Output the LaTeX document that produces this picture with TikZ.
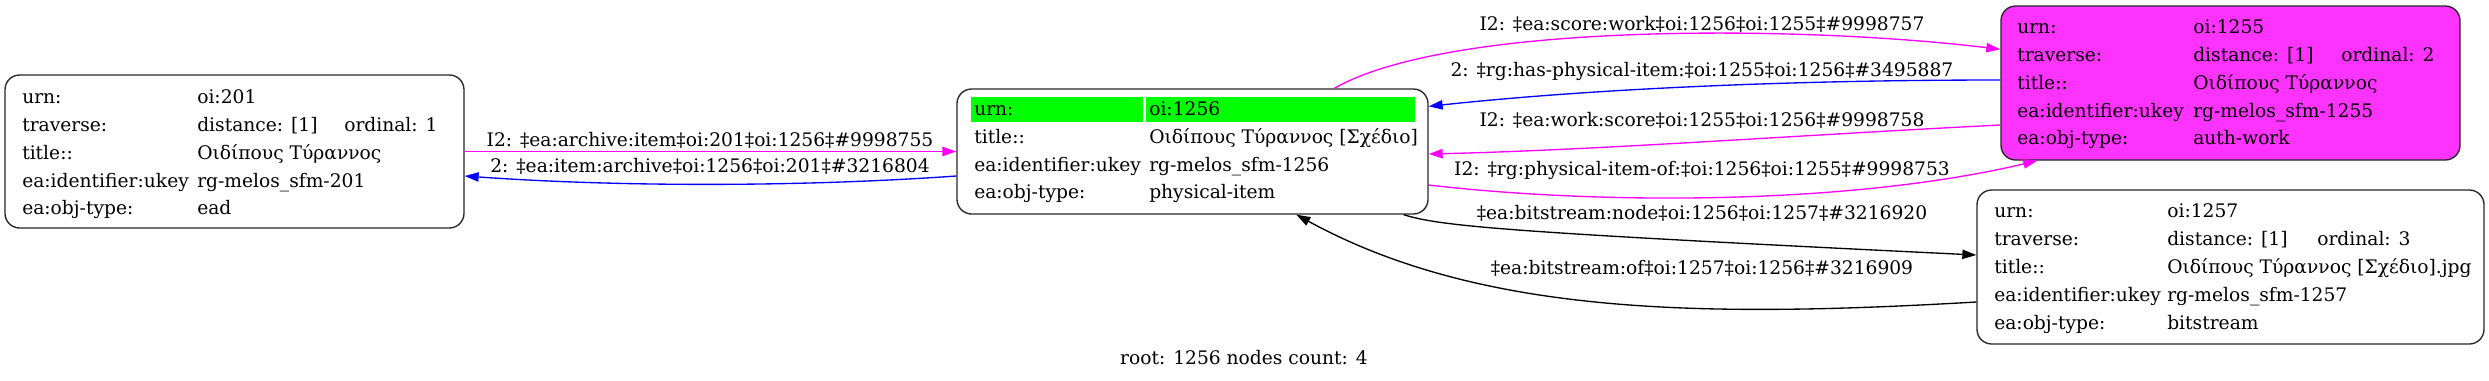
\documentclass[tikz,border=0pt]{standalone}
\usepackage{fontspec}
\setmainfont{DejaVu Serif}
\usetikzlibrary{arrows.meta,calc}
\definecolor{mag}{HTML}{FF00FF}
\definecolor{magfill}{HTML}{FF33FF}
\definecolor{grn}{HTML}{00FF00}
\definecolor{blu}{HTML}{0000FF}
\begin{document}
\begin{tikzpicture}[x=0.75pt,y=-0.75pt,
  font=\fontsize{14}{17}\selectfont,
  rec/.style={draw=black!85, line width=1pt, rounded corners=11pt, inner sep=0pt},
  txt/.style={anchor=base west, inner sep=0pt},
  lab/.style={anchor=base, inner sep=0pt},
  conn/.style={line width=1pt, -{Triangle[length=10.5pt,width=7pt]}}]
\useasboundingbox (0,0) rectangle (2489,380);

% record boxes
\node[rec, minimum width=344.25pt, minimum height=114.75pt] (n201) at (234.5,151.5) {};
\node[rec, minimum width=353.25pt, minimum height=93.75pt] (n1256) at (1192.5,151.5) {};
\node[rec, fill=magfill, minimum width=344.25pt, minimum height=115.5pt] (n1255) at (2230.5,83) {};
\node[rec, minimum width=380.25pt, minimum height=115.5pt] (n1257) at (2230.5,267) {};

% green cells of the root
\fill[grn] (971,97) rectangle (1143,122);
\fill[grn] (1146,97) rectangle (1415,122);

% node 201
\node[txt] (a1) at (22,103) {urn:};
\node[txt] (a2) at (22,131) {traverse:};
\node[txt] (a3) at (22,159) {title::};
\node[txt] (a4) at (22,187) {ea:identifier:ukey};
\node[txt] (a5) at (22,214) {ea:obj-type:};
\node[txt] (av1) at (197,103) {oi:201};
\node[txt] (av2) at (197,131) {distance: [1]};
\node[txt] (ao2) at (344,131) {ordinal: 1};
\node[txt] (av3) at (197,159) {Οιδίπους Τύραννος};
\node[txt] (av4) at (197,187) {rg-melos\_sfm-201};
\node[txt] (av5) at (197,214) {ead};

% node 1256
\node[txt] (b1) at (974,115) {urn:};
\node[txt] (b2) at (974,143) {title::};
\node[txt] (b3) at (974,171) {ea:identifier:ukey};
\node[txt] (b4) at (974,198) {ea:obj-type:};
\node[txt] (bv1) at (1149,115) {oi:1256};
\node[txt] (bv2) at (1149,143) {Οιδίπους Τύραννος [Σχέδιο]};
\node[txt] (bv3) at (1149,171) {rg-melos\_sfm-1256};
\node[txt] (bv4) at (1149,198) {physical-item};

% node 1255
\node[txt] (c1) at (2017,33) {urn:};
\node[txt] (c2) at (2017,61) {traverse:};
\node[txt] (c3) at (2017,89) {title::};
\node[txt] (c4) at (2017,117) {ea:identifier:ukey};
\node[txt] (c5) at (2017,144) {ea:obj-type:};
\node[txt] (cv1) at (2193,33) {oi:1255};
\node[txt] (cv2) at (2193,61) {distance: [1]};
\node[txt] (co2) at (2341,61) {ordinal: 2};
\node[txt] (cv3) at (2193,89) {Οιδίπους Τύραννος};
\node[txt] (cv4) at (2193,117) {rg-melos\_sfm-1255};
\node[txt] (cv5) at (2193,144) {auth-work};

% node 1257
\node[txt] (d1) at (1994,217) {urn:};
\node[txt] (d2) at (1994,245) {traverse:};
\node[txt] (d3) at (1994,273) {title::};
\node[txt] (d4) at (1994,301) {ea:identifier:ukey};
\node[txt] (d5) at (1994,329) {ea:obj-type:};
\node[txt] (dv1) at (2167,217) {oi:1257};
\node[txt] (dv2) at (2167,245) {distance: [1]};
\node[txt] (do2) at (2317,245) {ordinal: 3};
\node[txt] (dv3) at (2167,273) {Οιδίπους Τύραννος [Σχέδιο].jpg};
\node[txt] (dv4) at (2167,301) {rg-melos\_sfm-1257};
\node[txt] (dv5) at (2167,329) {bitstream};

% connectors
\draw[conn, mag] (n201.east) -- (n1256.west);
\draw[conn, blu] ($(n1256.west)+(0,24.5)$) .. controls (800,187) and (620,187) .. ($(n201.east)+(0,24.5)$);
\draw[conn, mag] ($(n1256.north west)+(378,0)$) .. controls (1450,22) and (1800,25) .. ($(n1255.north west)+(0,44)$);
\draw[conn, blu] ($(n1255.west)+(0,-3)$) .. controls (1800,80) and (1600,88) .. ($(n1256.north east)+(0,18)$);
\draw[conn, mag] ($(n1255.west)+(0,42)$) .. controls (1800,135) and (1600,150) .. ($(n1256.east)+(0,2.5)$);
\draw[conn, mag] ($(n1256.east)+(0,33.5)$) .. controls (1600,205) and (1850,205) .. ($(n1255.south west)+(37,0)$);
\draw[conn, black] ($(n1256.south east)+(-25,0)$) .. controls (1440,226) and (1500,232) .. ($(n1257.west)+(0,-12)$);
\draw[conn, black] ($(n1257.west)+(0,35)$) .. controls (1700,318) and (1480,315) .. ($(n1256.south west)+(340,0)$);

% connector labels
\node[lab] (l1) at (710,146) {I2: ‡ea:archive:item‡oi:201‡oi:1256‡\#9998755};
\node[lab] (l2) at (710,172) {2: ‡ea:item:archive‡oi:1256‡oi:201‡\#3216804};
\node[lab] (l3) at (1702,30) {I2: ‡ea:score:work‡oi:1256‡oi:1255‡\#9998757};
\node[lab] (l4) at (1702,76) {2: ‡rg:has-physical-item:‡oi:1255‡oi:1256‡\#3495887};
\node[lab] (l5) at (1702,126) {I2: ‡ea:work:score‡oi:1255‡oi:1256‡\#9998758};
\node[lab] (l6) at (1702,175) {I2: ‡rg:physical-item-of:‡oi:1256‡oi:1255‡\#9998753};
\node[lab] (l7) at (1702,219) {‡ea:bitstream:node‡oi:1256‡oi:1257‡\#3216920};
\node[lab] (l8) at (1702,274) {‡ea:bitstream:of‡oi:1257‡oi:1256‡\#3216909};

\node[lab] (foot) at (1244,364) {root: 1256 nodes count: 4};
\end{tikzpicture}
\end{document}
